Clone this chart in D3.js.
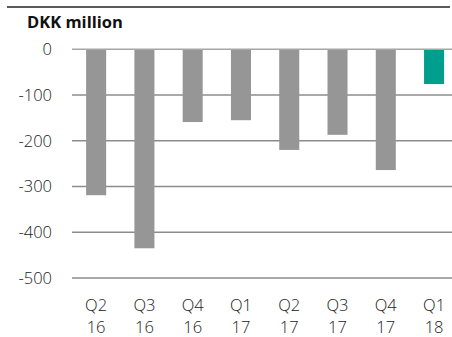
<!DOCTYPE html>
<html>
<head>
<meta charset="utf-8">
<script src="https://cdn.jsdelivr.net/npm/d3@7"></script>
<style>
  html, body { margin: 0; padding: 0; background: #fff; }
  svg { display: block; }
</style>
</head>
<body>
<svg id="chart" width="452" height="337"></svg>
<script>
// Quarterly result, DKK million
const quarters = ["Q2", "Q3", "Q4", "Q1", "Q2", "Q3", "Q4", "Q1"];
const years    = ["16", "16", "16", "17", "17", "17", "17", "18"];
const values   = [-319, -435, -159, -155, -220, -187, -264, -76];
const highlight = [false, false, false, false, false, false, false, true];
const yTicks   = [0, -100, -200, -300, -400, -500];

const svg = d3.select("#chart");
const W = 452;
const labelFont = "'Open Sans', Lato, sans-serif";

const x = d3.scaleBand()
  .domain(d3.range(values.length))
  .range([72, 458.2])
  .paddingInner(0.585)
  .paddingOuter(0.2925);

const y = d3.scaleLinear()
  .domain([0, -500])
  .range([49.3, 278]);

// top rule
svg.append("rect")
  .attr("x", 7).attr("y", 6)
  .attr("width", 443).attr("height", 2)
  .attr("fill", "#5a5a5a");

// unit label
svg.append("text")
  .attr("x", 27).attr("y", 28)
  .attr("font-family", "'Open Sans', 'Noto Sans', sans-serif")
  .attr("font-weight", 700)
  .attr("font-size", 16.5)
  .attr("fill", "#111")
  .text("DKK million");

// gridlines
svg.append("g")
  .selectAll("line")
  .data(yTicks)
  .join("line")
  .attr("x1", 72).attr("x2", W)
  .attr("y1", d => y(d)).attr("y2", d => y(d))
  .attr("stroke", d => d === 0 ? "#a6a6a6" : "#8c8c8c")
  .attr("stroke-width", 1.5);

// y tick labels
const yAxis = d3.axisLeft(y).tickValues(yTicks).tickSize(0).tickPadding(0)
  .tickFormat(d => d3.format("d")(d).replace("−", "-"));
const yg = svg.append("g").attr("transform", "translate(52,0)").call(yAxis);
yg.select(".domain").remove();
yg.selectAll("text")
  .attr("font-family", labelFont)
  .attr("font-weight", 300)
  .attr("font-size", 16.5)
  .attr("fill", "#222");

// bars
svg.append("g")
  .selectAll("rect")
  .data(values)
  .join("rect")
  .attr("x", (d, i) => x(i))
  .attr("width", x.bandwidth())
  .attr("y", d => y(0) + 0.7)
  .attr("height", d => y(d) - y(0) - 0.7)
  .attr("fill", (d, i) => highlight[i] ? "#009e8c" : "#969696");

// x labels, two lines
const xl = svg.append("g")
  .selectAll("text")
  .data(values)
  .join("text")
  .attr("text-anchor", "middle")
  .attr("font-family", labelFont)
  .attr("font-weight", 300)
  .attr("font-size", 16.5)
  .attr("fill", "#222");
xl.append("tspan").attr("y", 310.5).attr("x", (d, i) => x(i) + x.bandwidth() / 2).text((d, i) => quarters[i]);
xl.append("tspan").attr("y", 332.5).attr("x", (d, i) => x(i) + x.bandwidth() / 2).text((d, i) => years[i]);
</script>
</body>
</html>
